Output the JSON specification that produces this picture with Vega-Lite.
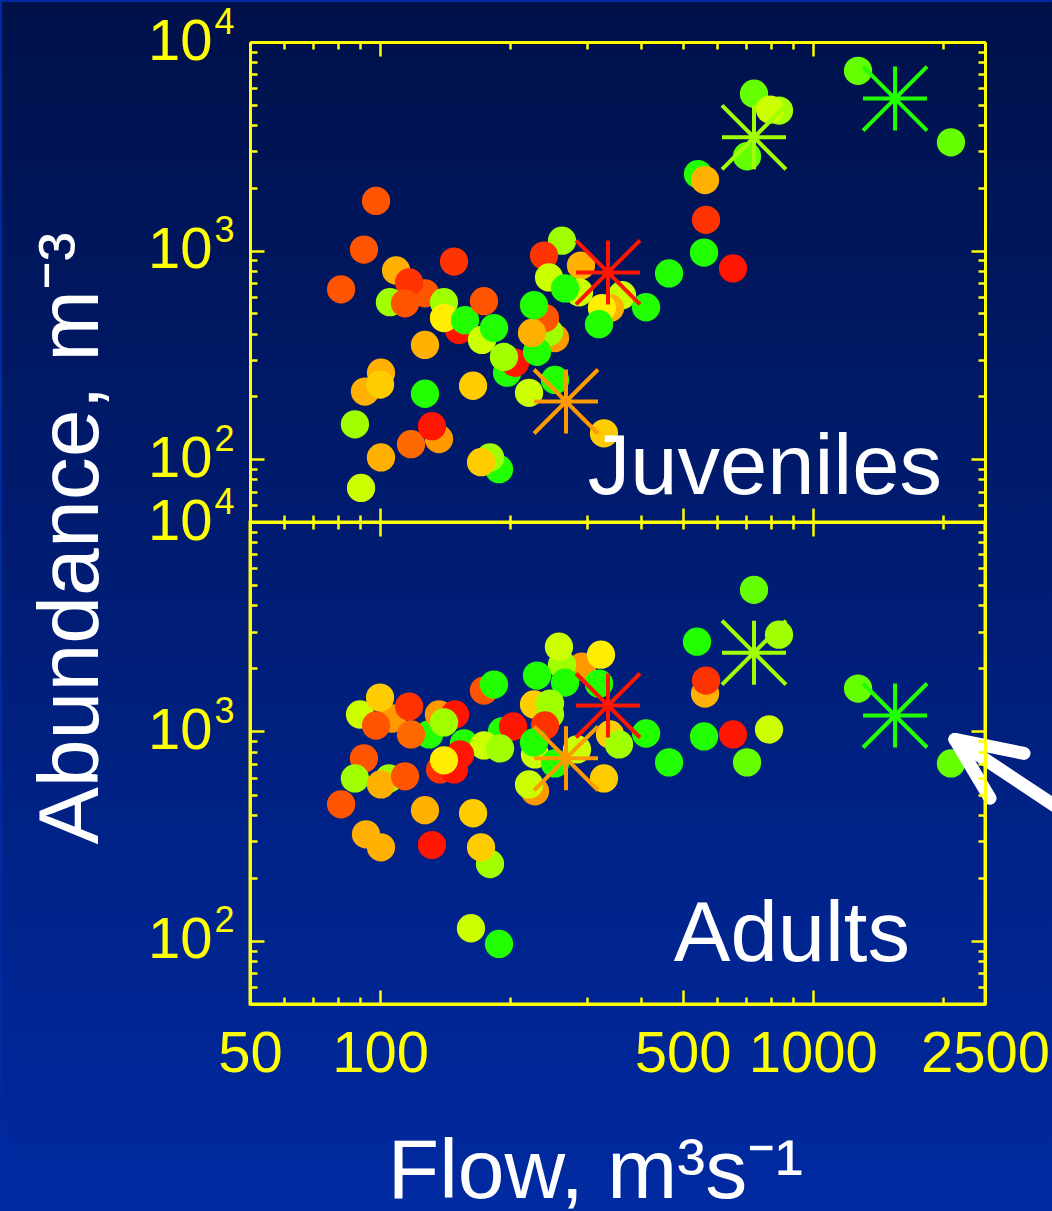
{
  "$schema": "https://vega.github.io/schema/vega-lite/v6.json",
  "background": "#002aa2",
  "padding": 0,
  "datasets": {
    "juv": [
      {"flow": 97.8, "abund": 1730, "tone": 3},
      {"flow": 91.7, "abund": 1011, "tone": 3},
      {"flow": 81.2, "abund": 652, "tone": 3},
      {"flow": 108.8, "abund": 803, "tone": 6},
      {"flow": 126.9, "abund": 624, "tone": 3},
      {"flow": 116.6, "abund": 704, "tone": 2},
      {"flow": 105.3, "abund": 566, "tone": 10},
      {"flow": 114.1, "abund": 559, "tone": 3},
      {"flow": 148.1, "abund": 886, "tone": 2},
      {"flow": 152.1, "abund": 416, "tone": 1},
      {"flow": 140.4, "abund": 566, "tone": 10},
      {"flow": 140.4, "abund": 475, "tone": 8},
      {"flow": 157.0, "abund": 464, "tone": 12},
      {"flow": 173.7, "abund": 572, "tone": 3},
      {"flow": 171.9, "abund": 373, "tone": 9},
      {"flow": 183.2, "abund": 425, "tone": 12},
      {"flow": 196.4, "abund": 260, "tone": 12},
      {"flow": 204.9, "abund": 290, "tone": 1},
      {"flow": 193.2, "abund": 309, "tone": 10},
      {"flow": 126.9, "abund": 353, "tone": 6},
      {"flow": 92.2, "abund": 211, "tone": 6},
      {"flow": 100.4, "abund": 260, "tone": 6},
      {"flow": 99.9, "abund": 228, "tone": 7},
      {"flow": 126.9, "abund": 206, "tone": 12},
      {"flow": 163.9, "abund": 225, "tone": 7},
      {"flow": 87.4, "abund": 147, "tone": 10},
      {"flow": 136.7, "abund": 125, "tone": 5},
      {"flow": 117.8, "abund": 118, "tone": 4},
      {"flow": 131.7, "abund": 144, "tone": 1},
      {"flow": 100.4, "abund": 102, "tone": 6},
      {"flow": 90.3, "abund": 72.8, "tone": 9},
      {"flow": 188.2, "abund": 89.6, "tone": 12},
      {"flow": 179.4, "abund": 102, "tone": 10},
      {"flow": 171.0, "abund": 96.8, "tone": 7},
      {"flow": 263.1, "abund": 1116, "tone": 10},
      {"flow": 239.1, "abund": 947, "tone": 2},
      {"flow": 291.1, "abund": 848, "tone": 6},
      {"flow": 245.6, "abund": 744, "tone": 9},
      {"flow": 288.1, "abund": 631, "tone": 9},
      {"flow": 267.4, "abund": 659, "tone": 12},
      {"flow": 362.2, "abund": 611, "tone": 9},
      {"flow": 339.7, "abund": 530, "tone": 6},
      {"flow": 325.5, "abund": 530, "tone": 8},
      {"flow": 320.4, "abund": 444, "tone": 12},
      {"flow": 411.6, "abund": 535, "tone": 12},
      {"flow": 465.2, "abund": 777, "tone": 12},
      {"flow": 253.5, "abund": 381, "tone": 5},
      {"flow": 245.6, "abund": 407, "tone": 10},
      {"flow": 230.4, "abund": 327, "tone": 12},
      {"flow": 240.4, "abund": 475, "tone": 3},
      {"flow": 224.3, "abund": 403, "tone": 6},
      {"flow": 226.7, "abund": 547, "tone": 12},
      {"flow": 253.5, "abund": 240, "tone": 12},
      {"flow": 220.8, "abund": 208, "tone": 9},
      {"flow": 329.0, "abund": 133, "tone": 7},
      {"flow": 560.4, "abund": 978, "tone": 12},
      {"flow": 566.4, "abund": 1405, "tone": 2},
      {"flow": 653.9, "abund": 821, "tone": 1},
      {"flow": 542.8, "abund": 2326, "tone": 12},
      {"flow": 563.4, "abund": 2178, "tone": 6},
      {"flow": 704.6, "abund": 2834, "tone": 11},
      {"flow": 731.1, "abund": 5655, "tone": 11},
      {"flow": 835.2, "abund": 4692, "tone": 10},
      {"flow": 796.2, "abund": 4745, "tone": 9},
      {"flow": 1272, "abund": 7276, "tone": 11},
      {"flow": 2086, "abund": 3304, "tone": 11}
    ],
    "adu": [
      {"flow": 173.7, "abund": 1568, "tone": 3},
      {"flow": 183.2, "abund": 1674, "tone": 12},
      {"flow": 89.8, "abund": 1205, "tone": 9},
      {"flow": 106.5, "abund": 1153, "tone": 5},
      {"flow": 99.9, "abund": 1452, "tone": 7},
      {"flow": 116.6, "abund": 1315, "tone": 2},
      {"flow": 97.8, "abund": 1068, "tone": 3},
      {"flow": 129.7, "abund": 968, "tone": 12},
      {"flow": 117.8, "abund": 968, "tone": 4},
      {"flow": 136.7, "abund": 1205, "tone": 5},
      {"flow": 148.9, "abund": 1205, "tone": 1},
      {"flow": 140.4, "abund": 1104, "tone": 10},
      {"flow": 156.2, "abund": 877, "tone": 12},
      {"flow": 191.2, "abund": 1000, "tone": 12},
      {"flow": 202.8, "abund": 1056, "tone": 1},
      {"flow": 173.7, "abund": 858, "tone": 9},
      {"flow": 189.2, "abund": 830, "tone": 10},
      {"flow": 104.8, "abund": 597, "tone": 10},
      {"flow": 91.7, "abund": 744, "tone": 3},
      {"flow": 87.4, "abund": 597, "tone": 10},
      {"flow": 100.4, "abund": 559, "tone": 6},
      {"flow": 114.1, "abund": 611, "tone": 3},
      {"flow": 152.9, "abund": 777, "tone": 1},
      {"flow": 137.5, "abund": 659, "tone": 2},
      {"flow": 148.1, "abund": 659, "tone": 1},
      {"flow": 140.4, "abund": 728, "tone": 8},
      {"flow": 81.2, "abund": 449, "tone": 3},
      {"flow": 126.9, "abund": 421, "tone": 6},
      {"flow": 163.9, "abund": 407, "tone": 7},
      {"flow": 92.7, "abund": 323, "tone": 6},
      {"flow": 100.4, "abund": 280, "tone": 6},
      {"flow": 131.7, "abund": 287, "tone": 1},
      {"flow": 179.4, "abund": 233, "tone": 10},
      {"flow": 171.0, "abund": 280, "tone": 7},
      {"flow": 162.1, "abund": 115, "tone": 9},
      {"flow": 188.2, "abund": 96.8, "tone": 12},
      {"flow": 292.7, "abund": 2039, "tone": 5},
      {"flow": 263.1, "abund": 2084, "tone": 10},
      {"flow": 258.9, "abund": 2540, "tone": 9},
      {"flow": 323.8, "abund": 2326, "tone": 8},
      {"flow": 230.4, "abund": 1848, "tone": 12},
      {"flow": 267.4, "abund": 1711, "tone": 12},
      {"flow": 320.4, "abund": 1692, "tone": 12},
      {"flow": 226.7, "abund": 1345, "tone": 7},
      {"flow": 246.9, "abund": 1359, "tone": 10},
      {"flow": 246.9, "abund": 1205, "tone": 10},
      {"flow": 240.4, "abund": 1068, "tone": 2},
      {"flow": 227.9, "abund": 777, "tone": 9},
      {"flow": 226.7, "abund": 886, "tone": 12},
      {"flow": 285.0, "abund": 821, "tone": 9},
      {"flow": 339.7, "abund": 968, "tone": 7},
      {"flow": 356.4, "abund": 867, "tone": 10},
      {"flow": 411.6, "abund": 978, "tone": 12},
      {"flow": 253.5, "abund": 704, "tone": 12},
      {"flow": 227.9, "abund": 518, "tone": 5},
      {"flow": 220.8, "abund": 559, "tone": 9},
      {"flow": 329.0, "abund": 597, "tone": 7},
      {"flow": 465.2, "abund": 712, "tone": 12},
      {"flow": 539.9, "abund": 2683, "tone": 12},
      {"flow": 731.1, "abund": 4745, "tone": 11},
      {"flow": 835.2, "abund": 2897, "tone": 10},
      {"flow": 563.4, "abund": 1517, "tone": 6},
      {"flow": 566.4, "abund": 1750, "tone": 2},
      {"flow": 560.4, "abund": 947, "tone": 12},
      {"flow": 653.9, "abund": 968, "tone": 1},
      {"flow": 792.0, "abund": 1022, "tone": 9},
      {"flow": 704.6, "abund": 712, "tone": 11},
      {"flow": 1272, "abund": 1602, "tone": 11},
      {"flow": 2086, "abund": 704, "tone": 11}
    ],
    "juvMean": [
      {"flow": 336.1, "abund": 786, "tone": 1},
      {"flow": 268.8, "abund": 189, "tone": 5},
      {"flow": 731.1, "abund": 3491, "tone": 10},
      {"flow": 1549, "abund": 5354, "tone": 12}
    ],
    "aduMean": [
      {"flow": 336.1, "abund": 1330, "tone": 1},
      {"flow": 268.8, "abund": 744, "tone": 5},
      {"flow": 731.1, "abund": 2378, "tone": 10},
      {"flow": 1549, "abund": 1192, "tone": 12}
    ],
    "arrow": [
      {"flow": 2131, "abund": 916, "flow2": 3973, "abund2": 390},
      {"flow": 2131, "abund": 916, "flow2": 3077, "abund2": 786},
      {"flow": 2131, "abund": 916, "flow2": 2568, "abund2": 480}
    ]
  },
  "bounds": "flush",
  "spacing": 0,
  "vconcat": [
    {
      "width": 735,
      "height": 480,
      "view": {"stroke": "#ffff00", "strokeWidth": 3},
      "resolve": {"axis": {"x": "independent", "y": "independent"}},
      "layer": [
        {
          "description": "slide backdrop: navy gradient spanning the whole figure, set in data units around the plot",
          "data": {"values": [{}]},
          "mark": {"type": "rect", "clip": false,
                   "fill": {"gradient": "linear", "x1": 0, "y1": 0, "x2": 0, "y2": 1,
                            "stops": [{"offset": 0, "color": "#00114a"}, {"offset": 1, "color": "#002aa2"}]}},
          "encoding": {
            "x": {"datum": 13.36, "type": "quantitative", "scale": {"type": "log", "domain": [50, 2500], "nice": false}, "axis": null},
            "x2": {"datum": 3609},
            "y": {"datum": 15546, "type": "quantitative", "scale": {"type": "log", "domain": [50, 10000], "nice": false}, "axis": null},
            "y2": {"datum": 0.02435}
          }
        },
        {
          "data": {"name": "juv"},
          "mark": {"type": "circle", "size": 800, "opacity": 1},
          "encoding": {
            "x": {"field": "flow", "type": "quantitative",
                  "scale": {"type": "log", "domain": [50, 2500], "nice": false},
                  "axis": {"zindex": 1, "orient": "bottom", "values": [50, 100, 500, 1000, 2500], "tickSize": -14, "labels": false, "title": null}},
            "y": {"field": "abund", "type": "quantitative",
                  "scale": {"type": "log", "domain": [50, 10000], "nice": false},
                  "axis": {"zindex": 1, "orient": "left", "values": [100, 1000, 10000], "tickSize": -14, "labelExpr": "'10'", "labelPadding": 52,
                           "title": "Abundance, m⁻³", "titleFontSize": 86, "titleAngle": 270, "titleAlign": "center",
                           "titleBaseline": "alphabetic", "titleX": -153, "titleY": 496}},
            "color": {"field": "tone", "type": "ordinal", "legend": null,
                      "scale": {"domain": [1, 2, 3, 4, 5, 6, 7, 8, 9, 10, 11, 12],
                                "range": ["#ff1500", "#ff3300", "#ff5500", "#ff6a00", "#ff9900", "#ffb000", "#ffcc00", "#ffee00", "#ccff00", "#a0ff00", "#66ff00", "#22ff00"]}}
          }
        },
        {
          "data": {"name": "juvMean"},
          "mark": {"type": "point", "shape": "M-1,0L1,0M0,-1L0,1M-1,-1L1,1M-1,1L1,-1", "size": 4096, "filled": false, "strokeWidth": 4, "opacity": 1},
          "encoding": {
            "x": {"field": "flow", "type": "quantitative",
                  "scale": {"type": "log", "domain": [50, 2500], "nice": false},
                  "axis": {"zindex": 1, "orient": "bottom", "values": [60, 70, 80, 90, 200, 300, 400, 600, 700, 800, 900, 2000], "tickSize": -7, "labels": false, "title": null}},
            "y": {"field": "abund", "type": "quantitative",
                  "scale": {"type": "log", "domain": [50, 10000], "nice": false},
                  "axis": {"zindex": 1, "orient": "left", "values": [60, 70, 80, 90, 200, 300, 400, 500, 600, 700, 800, 900, 2000, 3000, 4000, 5000, 6000, 7000, 8000, 9000], "tickSize": -7, "labels": false, "title": null}},
            "color": {"field": "tone", "type": "ordinal", "legend": null}
          }
        },
        {
          "data": {"name": "juv"},
          "mark": {"type": "circle", "opacity": 0},
          "encoding": {
            "x": {"field": "flow", "type": "quantitative",
                  "scale": {"type": "log", "domain": [50, 2500], "nice": false},
                  "axis": {"zindex": 1, "orient": "top", "values": [100, 1000], "tickSize": -14, "labels": false, "title": null}},
            "y": {"field": "abund", "type": "quantitative",
                  "scale": {"type": "log", "domain": [50, 10000], "nice": false},
                  "axis": {"zindex": 1, "orient": "left", "values": [100, 1000, 10000], "ticks": false, "domain": false,
                           "labelExpr": "datum.value > 9000 ? '4' : datum.value > 900 ? '3' : '2'",
                           "labelFontSize": 36, "labelPadding": 16, "labelOffset": -20, "title": null}}
          }
        },
        {
          "data": {"name": "juv"},
          "mark": {"type": "circle", "opacity": 0},
          "encoding": {
            "x": {"field": "flow", "type": "quantitative",
                  "scale": {"type": "log", "domain": [50, 2500], "nice": false},
                  "axis": {"zindex": 1, "orient": "top", "values": [60, 70, 80, 90, 200, 300, 400, 500, 600, 700, 800, 900, 2000], "tickSize": -7, "labels": false, "title": null}},
            "y": {"field": "abund", "type": "quantitative",
                  "scale": {"type": "log", "domain": [50, 10000], "nice": false},
                  "axis": {"zindex": 1, "orient": "right", "values": [100, 1000], "tickSize": -14, "labels": false, "title": null}}
          }
        },
        {
          "data": {"name": "juv"},
          "mark": {"type": "circle", "opacity": 0},
          "encoding": {
            "x": {"field": "flow", "type": "quantitative",
                  "scale": {"type": "log", "domain": [50, 2500], "nice": false}, "axis": null},
            "y": {"field": "abund", "type": "quantitative",
                  "scale": {"type": "log", "domain": [50, 10000], "nice": false},
                  "axis": {"zindex": 1, "orient": "right", "values": [60, 70, 80, 90, 200, 300, 400, 500, 600, 700, 800, 900, 2000, 3000, 4000, 5000, 6000, 7000, 8000, 9000], "tickSize": -7, "labels": false, "title": null}}
          }
        },
        {
          "data": {"values": [{}]},
          "mark": {"type": "text", "text": "Juveniles", "align": "right", "baseline": "alphabetic", "fontSize": 85, "color": "#ffffff", "font": "Liberation Sans"},
          "encoding": {
            "x": {"datum": 1989, "type": "quantitative", "scale": {"type": "log", "domain": [50, 2500], "nice": false}, "axis": null},
            "y": {"datum": 68, "type": "quantitative", "scale": {"type": "log", "domain": [50, 10000], "nice": false}, "axis": null}
          }
        }
      ]
    },
    {
      "width": 735,
      "height": 482,
      "view": {"stroke": "#ffff00", "strokeWidth": 3},
      "resolve": {"axis": {"x": "independent", "y": "independent"}},
      "layer": [
        {
          "data": {"name": "adu"},
          "mark": {"type": "circle", "size": 800, "opacity": 1},
          "encoding": {
            "x": {"field": "flow", "type": "quantitative",
                  "scale": {"type": "log", "domain": [50, 2500], "nice": false},
                  "axis": {"zindex": 1, "orient": "bottom", "values": [50, 100, 500, 1000, 2500], "format": "d", "tickSize": -14, "labelPadding": 35,
                           "title": "Flow, m³s⁻¹", "titleFontSize": 84, "titleAlign": "center", "titleBaseline": "alphabetic",
                           "titleX": 345, "titleY": 193}},
            "y": {"field": "abund", "type": "quantitative",
                  "scale": {"type": "log", "domain": [50, 10000], "nice": false},
                  "axis": {"zindex": 1, "orient": "left", "values": [100, 1000, 10000], "tickSize": -14, "labelExpr": "'10'", "labelPadding": 52, "title": null}},
            "color": {"field": "tone", "type": "ordinal", "legend": null,
                      "scale": {"domain": [1, 2, 3, 4, 5, 6, 7, 8, 9, 10, 11, 12],
                                "range": ["#ff1500", "#ff3300", "#ff5500", "#ff6a00", "#ff9900", "#ffb000", "#ffcc00", "#ffee00", "#ccff00", "#a0ff00", "#66ff00", "#22ff00"]}}
          }
        },
        {
          "data": {"name": "aduMean"},
          "mark": {"type": "point", "shape": "M-1,0L1,0M0,-1L0,1M-1,-1L1,1M-1,1L1,-1", "size": 4096, "filled": false, "strokeWidth": 4, "opacity": 1},
          "encoding": {
            "x": {"field": "flow", "type": "quantitative",
                  "scale": {"type": "log", "domain": [50, 2500], "nice": false},
                  "axis": {"zindex": 1, "orient": "bottom", "values": [60, 70, 80, 90, 200, 300, 400, 600, 700, 800, 900, 2000], "tickSize": -7, "labels": false, "title": null}},
            "y": {"field": "abund", "type": "quantitative",
                  "scale": {"type": "log", "domain": [50, 10000], "nice": false},
                  "axis": {"zindex": 1, "orient": "left", "values": [60, 70, 80, 90, 200, 300, 400, 500, 600, 700, 800, 900, 2000, 3000, 4000, 5000, 6000, 7000, 8000, 9000], "tickSize": -7, "labels": false, "title": null}},
            "color": {"field": "tone", "type": "ordinal", "legend": null}
          }
        },
        {
          "data": {"name": "adu"},
          "mark": {"type": "circle", "opacity": 0},
          "encoding": {
            "x": {"field": "flow", "type": "quantitative",
                  "scale": {"type": "log", "domain": [50, 2500], "nice": false},
                  "axis": {"zindex": 1, "orient": "top", "values": [100, 1000], "tickSize": -14, "labels": false, "title": null}},
            "y": {"field": "abund", "type": "quantitative",
                  "scale": {"type": "log", "domain": [50, 10000], "nice": false},
                  "axis": {"zindex": 1, "orient": "left", "values": [100, 1000, 10000], "ticks": false, "domain": false,
                           "labelExpr": "datum.value > 9000 ? '4' : datum.value > 900 ? '3' : '2'",
                           "labelFontSize": 36, "labelPadding": 16, "labelOffset": -20, "title": null}}
          }
        },
        {
          "data": {"name": "adu"},
          "mark": {"type": "circle", "opacity": 0},
          "encoding": {
            "x": {"field": "flow", "type": "quantitative",
                  "scale": {"type": "log", "domain": [50, 2500], "nice": false},
                  "axis": {"zindex": 1, "orient": "top", "values": [60, 70, 80, 90, 200, 300, 400, 500, 600, 700, 800, 900, 2000], "tickSize": -7, "labels": false, "title": null}},
            "y": {"field": "abund", "type": "quantitative",
                  "scale": {"type": "log", "domain": [50, 10000], "nice": false},
                  "axis": {"zindex": 1, "orient": "right", "values": [100, 1000], "tickSize": -14, "labels": false, "title": null}}
          }
        },
        {
          "data": {"name": "adu"},
          "mark": {"type": "circle", "opacity": 0},
          "encoding": {
            "x": {"field": "flow", "type": "quantitative",
                  "scale": {"type": "log", "domain": [50, 2500], "nice": false}, "axis": null},
            "y": {"field": "abund", "type": "quantitative",
                  "scale": {"type": "log", "domain": [50, 10000], "nice": false},
                  "axis": {"zindex": 1, "orient": "right", "values": [60, 70, 80, 90, 200, 300, 400, 500, 600, 700, 800, 900, 2000, 3000, 4000, 5000, 6000, 7000, 8000, 9000], "tickSize": -7, "labels": false, "title": null}}
          }
        },
        {
          "data": {"values": [{}]},
          "mark": {"type": "text", "text": "Adults", "align": "right", "baseline": "alphabetic", "fontSize": 85, "color": "#ffffff", "font": "Liberation Sans"},
          "encoding": {
            "x": {"datum": 1677, "type": "quantitative", "scale": {"type": "log", "domain": [50, 2500], "nice": false}, "axis": null},
            "y": {"datum": 80.3, "type": "quantitative", "scale": {"type": "log", "domain": [50, 10000], "nice": false}, "axis": null}
          }
        },
        {
          "data": {"name": "arrow"},
          "mark": {"type": "rule", "color": "#ffffff", "strokeWidth": 13, "strokeCap": "round"},
          "encoding": {
            "x": {"field": "flow", "type": "quantitative", "scale": {"type": "log", "domain": [50, 2500], "nice": false}, "axis": null},
            "x2": {"field": "flow2"},
            "y": {"field": "abund", "type": "quantitative", "scale": {"type": "log", "domain": [50, 10000], "nice": false}, "axis": null},
            "y2": {"field": "abund2"}
          }
        }
      ]
    }
  ],
  "config": {
    "font": "Liberation Sans",
    "axis": {
      "domainColor": "#ffff00", "domainWidth": 3,
      "tickColor": "#ffff00", "tickWidth": 2.5,
      "labelColor": "#ffff00", "labelFont": "Liberation Sans", "labelFontSize": 58,
      "labelOverlap": false, "labelFlush": false, "labelBound": false,
      "grid": false,
      "titleColor": "#ffffff", "titleFont": "Liberation Sans", "titleFontWeight": "normal"
    }
  }
}
